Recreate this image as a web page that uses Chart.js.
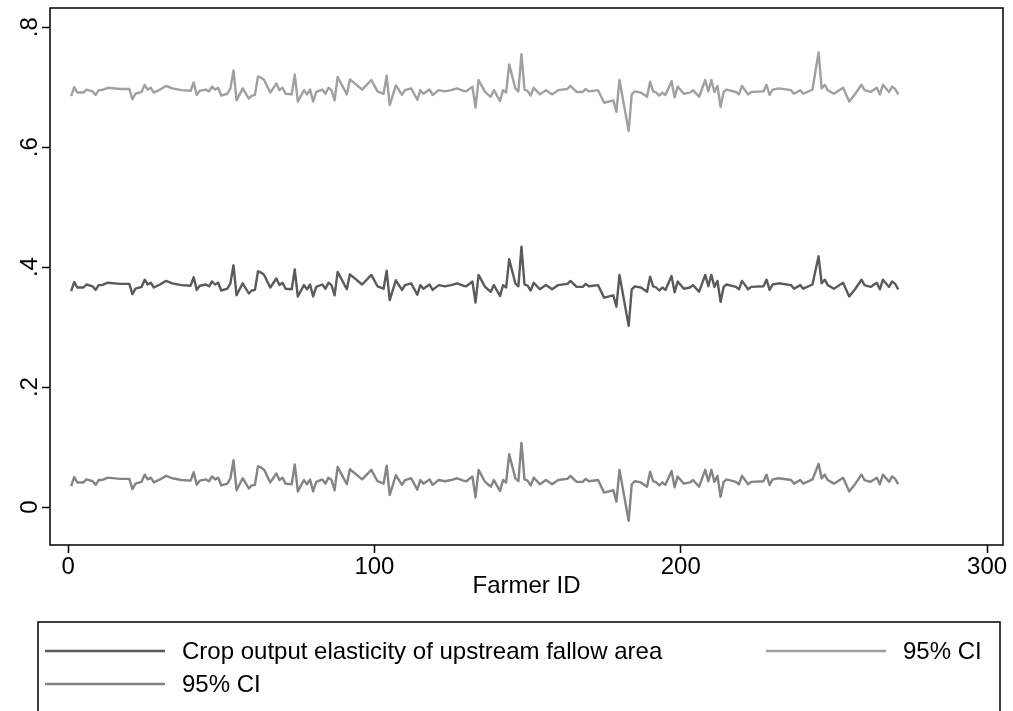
<!DOCTYPE html>
<html lang="en">
<head>
<meta charset="UTF-8">
<title>Crop output elasticity by farmer</title>
<script src="https://cdn.jsdelivr.net/npm/chart.js@4.4.1/dist/chart.umd.min.js"></script>
<style>
    html, body { margin: 0; padding: 0; background: #fff; }
    #wrap { width: 1013px; height: 711px; }
</style>
</head>
<body>
<div id="wrap"><canvas id="elasticityChart" width="1013" height="711"></canvas></div>

<script>
// Farmer IDs where the series change direction
var farmerId = [
    1, 2, 3, 5, 6, 8, 9, 10, 11, 13,
    17, 20, 21, 22, 24, 25, 26, 27, 28, 30,
    32, 34, 37, 40, 41, 42, 43, 45, 46, 47,
    48, 49, 50, 52, 53, 54, 55, 57, 59, 60,
    61, 62, 63, 64, 66, 68, 69, 70, 71, 73,
    74, 75, 77, 78, 79, 80, 81, 83, 84, 85,
    86, 87, 88, 91, 92, 96, 99, 101, 103, 104,
    105, 107, 109, 110, 112, 114, 115, 116, 118, 119,
    121, 123, 125, 127, 129, 130, 132, 133, 134, 136,
    137, 138, 139, 141, 142, 143, 144, 146, 147, 148,
    149, 150, 151, 152, 154, 156, 158, 160, 163, 164,
    166, 168, 169, 170, 173, 175, 178, 179, 180, 183,
    184, 185, 187, 189, 190, 191, 192, 193, 194, 195,
    197, 198, 199, 201, 203, 204, 206, 208, 209, 210,
    211, 212, 213, 214, 215, 218, 219, 220, 222, 223,
    227, 228, 229, 230, 232, 236, 237, 239, 240, 243,
    245, 246, 247, 248, 250, 253, 255, 257, 259, 260,
    262, 264, 265, 266, 268, 269, 270, 271
];

// Point estimate of the elasticity
var elasticity = [
    .360, .375, .366, .366, .371, .368, .362, .370, .370, .374,
    .372, .372, .355, .364, .367, .379, .371, .374, .366, .371,
    .377, .373, .370, .369, .383, .362, .369, .371, .368, .376,
    .371, .374, .361, .364, .373, .403, .353, .373, .356, .361,
    .362, .393, .391, .387, .366, .381, .370, .374, .364, .363,
    .396, .351, .370, .363, .371, .351, .367, .371, .364, .374,
    .370, .353, .392, .363, .388, .371, .387, .368, .364, .394,
    .345, .378, .362, .370, .373, .354, .370, .364, .371, .362,
    .370, .368, .370, .373, .369, .368, .376, .341, .387, .368,
    .363, .359, .370, .352, .370, .366, .413, .373, .368, .434,
    .371, .369, .361, .374, .363, .370, .363, .370, .372, .377,
    .367, .367, .372, .368, .370, .349, .353, .334, .387, .302,
    .363, .368, .366, .359, .384, .368, .366, .361, .366, .362,
    .385, .358, .376, .364, .366, .370, .359, .387, .368, .387,
    .367, .377, .342, .367, .371, .367, .363, .377, .363, .367,
    .368, .379, .362, .371, .373, .370, .364, .370, .364, .371,
    .418, .373, .379, .370, .364, .374, .351, .364, .379, .370,
    .367, .374, .363, .379, .367, .376, .372, .363
];

// Upper bound of the 95% interval
var ciUpper = [
    .685, .700, .691, .691, .696, .693, .687, .695, .695, .699,
    .697, .697, .680, .689, .692, .704, .696, .699, .691, .696,
    .702, .698, .695, .694, .708, .687, .694, .696, .693, .701,
    .696, .699, .686, .689, .698, .728, .678, .698, .681, .686,
    .687, .718, .716, .712, .691, .706, .695, .699, .689, .688,
    .721, .676, .695, .688, .696, .676, .692, .696, .689, .699,
    .695, .678, .717, .688, .713, .696, .712, .693, .689, .719,
    .670, .703, .687, .695, .698, .679, .695, .689, .696, .687,
    .695, .693, .695, .698, .694, .693, .701, .666, .712, .693,
    .688, .684, .695, .677, .695, .691, .738, .698, .693, .755,
    .696, .694, .686, .699, .688, .695, .688, .695, .697, .702,
    .692, .692, .697, .693, .695, .674, .678, .659, .712, .627,
    .688, .693, .691, .684, .709, .693, .691, .686, .691, .687,
    .710, .683, .701, .689, .691, .695, .684, .712, .693, .712,
    .692, .702, .667, .692, .696, .692, .688, .702, .688, .692,
    .693, .704, .687, .696, .698, .695, .689, .695, .689, .696,
    .758, .698, .704, .695, .689, .699, .676, .689, .704, .695,
    .692, .699, .688, .704, .692, .701, .697, .688
];

// Lower bound of the 95% interval
var ciLower = [
    .035, .050, .041, .041, .046, .043, .037, .045, .045, .049,
    .047, .047, .030, .039, .042, .054, .046, .049, .041, .046,
    .052, .048, .045, .044, .058, .037, .044, .046, .043, .051,
    .046, .049, .036, .039, .048, .078, .028, .048, .031, .036,
    .037, .068, .066, .062, .041, .056, .045, .049, .039, .038,
    .071, .026, .045, .038, .046, .026, .042, .046, .039, .049,
    .045, .028, .067, .038, .063, .046, .062, .043, .039, .069,
    .020, .053, .037, .045, .048, .029, .045, .039, .046, .037,
    .045, .043, .045, .048, .044, .043, .051, .016, .062, .043,
    .038, .034, .045, .027, .045, .041, .088, .048, .043, .107,
    .046, .044, .036, .049, .038, .045, .038, .045, .047, .052,
    .042, .042, .047, .043, .045, .024, .028, .009, .062, -.023,
    .038, .043, .041, .034, .059, .043, .041, .036, .041, .037,
    .060, .033, .051, .039, .041, .045, .034, .062, .043, .062,
    .042, .052, .017, .042, .046, .042, .038, .052, .038, .042,
    .043, .054, .037, .046, .048, .045, .039, .045, .039, .046,
    .072, .048, .054, .045, .039, .049, .026, .039, .054, .045,
    .042, .049, .038, .054, .042, .051, .047, .038
];

var seriesLabels = ['Crop output elasticity of upstream fallow area', '95% CI', '95% CI'];
var xTicks = [0, 100, 200, 300];
var yTicks = [0, .2, .4, .6, .8];

var FONT = '"Liberation Sans", Arial, sans-serif';
var FONT_SIZE = 24;
var colors = ['#5a5a5a', '#a0a0a0', '#848484'];

// pair ids with values for a linear x axis
function toPoints(values) {
    return values.map(function (v, i) { return { x: farmerId[i], y: v }; });
}

// ".2" style labels, no leading zero
function stataNum(v) {
    var s = String(Math.round(v * 10) / 10);
    return s.replace(/^0\./, '.');
}

// Outline around the plot region
var framePlugin = {
    id: 'frame',
    beforeDatasetsDraw: function (chart) {
        var a = chart.chartArea, ctx = chart.ctx;
        ctx.save();
        ctx.strokeStyle = '#000';
        ctx.lineWidth = 1.5;
        ctx.strokeRect(a.left, a.top, a.right - a.left, a.bottom - a.top);
        ctx.restore();
    }
};

// Rotated y labels, axis title and the boxed legend
var labelsPlugin = {
    id: 'labels',
    afterDraw: function (chart) {
        var ctx = chart.ctx, a = chart.chartArea, ys = chart.scales.y;
        ctx.save();
        ctx.fillStyle = '#000';
        ctx.font = FONT_SIZE + 'px ' + FONT;

        // y tick labels, read bottom to top
        ys.ticks.forEach(function (t) {
            var py = ys.getPixelForValue(t.value);
            ctx.save();
            ctx.translate(37, py);
            ctx.rotate(-Math.PI / 2);
            ctx.textAlign = 'center';
            ctx.textBaseline = 'alphabetic';
            ctx.fillText(stataNum(t.value), 0, 0);
            ctx.restore();
        });

        // x axis title
        ctx.textAlign = 'center';
        ctx.textBaseline = 'middle';
        ctx.fillText('Farmer ID', (a.left + a.right) / 2, 586);

        // legend box
        ctx.strokeStyle = '#000';
        ctx.lineWidth = 1.5;
        ctx.strokeRect(38, 622, 962, 100);

        var items = [
            { x: 45, y: 651, ds: 0 },
            { x: 766, y: 651, ds: 1 },
            { x: 45, y: 684, ds: 2 }
        ];
        ctx.textAlign = 'left';
        items.forEach(function (it) {
            var ds = chart.data.datasets[it.ds];
            ctx.strokeStyle = ds.borderColor;
            ctx.lineWidth = ds.borderWidth;
            ctx.beginPath();
            ctx.moveTo(it.x, it.y);
            ctx.lineTo(it.x + 120, it.y);
            ctx.stroke();
            ctx.fillText(ds.label, it.x + 137, it.y + 1);
        });
        ctx.restore();
    }
};

var ctx = document.getElementById('elasticityChart');

new Chart(ctx, {
    type: 'line',
    data: {
        datasets: [
            { label: seriesLabels[0], data: toPoints(elasticity), borderColor: colors[0], borderWidth: 2.4 },
            { label: seriesLabels[1], data: toPoints(ciUpper), borderColor: colors[1], borderWidth: 2.4 },
            { label: seriesLabels[2], data: toPoints(ciLower), borderColor: colors[2], borderWidth: 2.4 }
        ]
    },
    options: {
        responsive: false,
        animation: false,
        devicePixelRatio: 1,
        layout: { padding: { top: 8, right: 10, left: 0, bottom: 0 } },
        elements: {
            point: { radius: 0 },
            line: { tension: 0, fill: false, borderJoinStyle: 'round' }
        },
        plugins: {
            legend: { display: false },
            tooltip: { enabled: false }
        },
        scales: {
            x: {
                type: 'linear',
                min: -5.9,
                max: 305.2,
                afterFit: function (s) { s.height = 166; },
                afterBuildTicks: function (s) { s.ticks = xTicks.map(function (v) { return { value: v }; }); },
                ticks: {
                    color: '#000',
                    font: { family: FONT, size: FONT_SIZE },
                    padding: 0,
                    maxRotation: 0,
                    callback: function (v) { return String(v); }
                },
                grid: { drawOnChartArea: false, drawTicks: true, tickLength: 8, tickColor: '#000', tickWidth: 1.5 },
                border: { display: false }
            },
            y: {
                type: 'linear',
                min: -0.0633,
                max: 0.832,
                afterFit: function (s) { s.width = 50; },
                afterBuildTicks: function (s) { s.ticks = yTicks.map(function (v) { return { value: v }; }); },
                ticks: { color: 'rgba(0,0,0,0)', font: { family: FONT, size: 1 }, padding: 0 },
                grid: { drawOnChartArea: false, drawTicks: true, tickLength: 8, tickColor: '#000', tickWidth: 1.5 },
                border: { display: false }
            }
        }
    },
    plugins: [framePlugin, labelsPlugin]
});
</script>
</body>
</html>
